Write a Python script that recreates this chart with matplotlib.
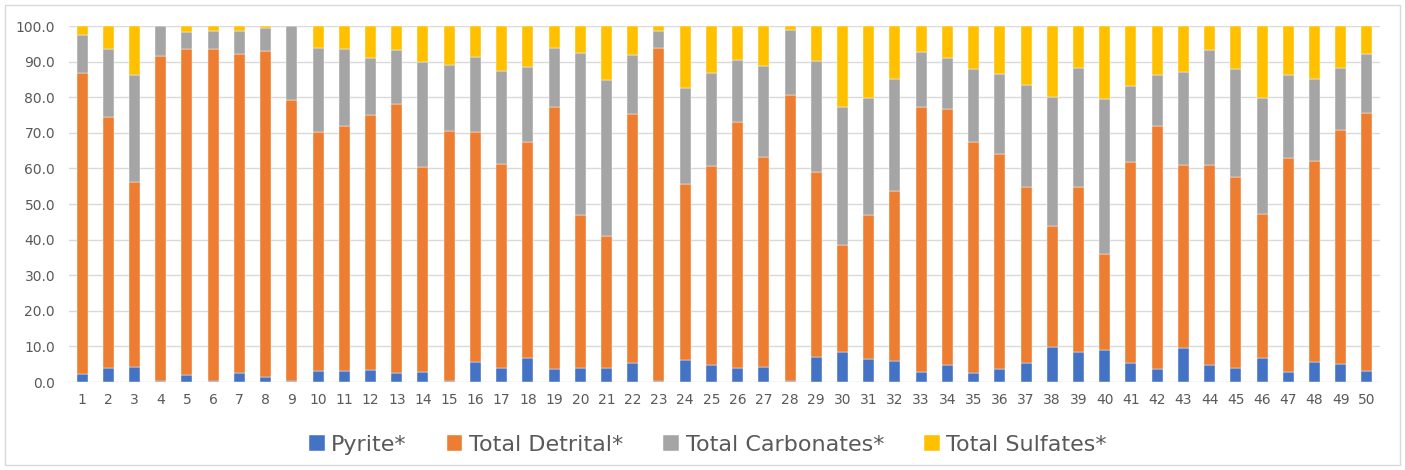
import matplotlib
matplotlib.use("Agg")
import matplotlib.pyplot as plt
from matplotlib.patches import Rectangle
import numpy as np

samples = list(range(1, 51))

pyrite = [2.3, 3.9, 4.3, 0.2, 1.9, 0.2, 2.5, 1.3, 0.2, 3.2,
          3.2, 3.5, 2.5, 2.9, 0.2, 5.7, 4.0, 6.8, 3.7, 4.0,
          3.8, 5.2, 0.2, 6.3, 4.7, 4.0, 4.3, 0.2, 7.1, 8.4,
          6.5, 5.9, 2.8, 4.7, 2.5, 3.7, 5.3, 9.8, 8.4, 9.0,
          5.3, 3.7, 9.6, 4.7, 4.0, 6.7, 2.8, 5.6, 5.1, 3.1]

detrital = [84.6, 70.6, 51.9, 91.4, 91.7, 93.4, 89.7, 91.8, 79.0, 67.0,
            68.8, 71.4, 75.5, 57.4, 70.4, 64.6, 57.3, 60.7, 73.6, 43.0,
            37.1, 70.0, 93.7, 49.2, 56.0, 69.0, 58.8, 80.4, 51.9, 30.2,
            40.5, 47.8, 74.5, 72.1, 65.0, 60.3, 49.4, 34.1, 46.3, 26.9,
            56.6, 68.3, 51.3, 56.2, 53.5, 40.5, 60.2, 56.5, 65.8, 72.6]

carbonates = [10.5, 19.1, 30.0, 8.4, 4.8, 5.0, 6.4, 6.4, 20.8, 23.7,
              21.6, 16.0, 15.3, 29.7, 18.5, 20.9, 26.2, 21.0, 16.6, 45.5,
              43.8, 16.6, 4.8, 27.1, 26.2, 17.5, 25.7, 18.4, 31.3, 38.7,
              32.9, 31.3, 15.5, 14.1, 20.3, 22.6, 28.8, 36.1, 33.4, 43.6,
              21.3, 14.2, 26.3, 32.4, 30.3, 32.7, 23.2, 22.9, 17.2, 16.5]

sulfates = [2.6, 6.4, 13.8, 0.0, 1.6, 1.4, 1.4, 0.5, 0.0, 6.1,
            6.4, 9.1, 6.7, 10.0, 10.9, 8.8, 12.5, 11.5, 6.1, 7.5,
            15.3, 8.2, 1.3, 17.4, 13.1, 9.5, 11.2, 1.0, 9.7, 22.7,
            20.1, 15.0, 7.2, 9.1, 12.2, 13.4, 16.5, 20.0, 11.9, 20.5,
            16.8, 13.8, 12.8, 6.7, 12.2, 20.1, 13.8, 15.0, 11.9, 7.8]

series_names = ["Pyrite*", "Total Detrital*", "Total Carbonates*", "Total Sulfates*"]
series_colors = ["#4472C4", "#ED7D31", "#A5A5A5", "#FFC000"]
y_ticks = [0, 10, 20, 30, 40, 50, 60, 70, 80, 90, 100]

W, H = 1405, 470
fig = plt.figure(figsize=(W / 100, H / 100), dpi=100)
fig.patch.set_facecolor("white")

# light chart-area border
fig.add_artist(Rectangle((5 / W, 5 / H), 1395 / W, 460 / H,
                         transform=fig.transFigure, fill=False,
                         edgecolor="#D9D9D9", linewidth=1.0))

ax = fig.add_axes([69 / W, (H - 382) / H, 1311 / W, 356 / H])

x = np.array(samples)
bottom = np.zeros(len(samples))
for vals, name, col in zip([pyrite, detrital, carbonates, sulfates],
                           series_names, series_colors):
    v = np.array(vals)
    ax.bar(x, v, width=0.42, bottom=bottom, color=col, label=name,
           edgecolor="white", linewidth=0.3, zorder=3)
    bottom += v

ax.set_xlim(0.5, 50.5)
ax.set_ylim(0, 100)
ax.set_yticks(y_ticks)
ax.set_yticklabels([f"{t:.1f}" for t in y_ticks])
ax.set_xticks(x)
ax.set_xticklabels([str(s) for s in samples])
ax.yaxis.grid(True, color="#D9D9D9", linewidth=1.0, zorder=0)
ax.set_axisbelow(True)
for sp in ax.spines.values():
    sp.set_visible(False)
ax.tick_params(axis="both", length=0, colors="#595959", labelsize=10)
ax.tick_params(axis="x", pad=8)
ax.tick_params(axis="y", pad=10)

handles, labels = ax.get_legend_handles_labels()
fig.legend(handles, labels, loc="center", bbox_to_anchor=(708 / W, 1 - 445 / H),
           ncol=4, frameon=False, fontsize=16, labelcolor="#595959",
           handlelength=0.7, handleheight=0.7, handletextpad=0.3,
           columnspacing=1.8)

fig.savefig("out.png", dpi=100)
